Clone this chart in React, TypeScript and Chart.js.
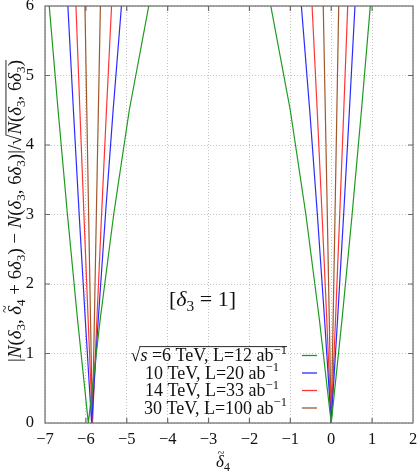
import React, { useEffect, useRef } from 'react';
import { Chart, registerables } from 'chart.js';
Chart.register(...registerables);

// y levels shared by every V-shaped branch (left arm top -> vertex -> right arm top)
const yLevels = [6, 4.5, 3, 1.5, 0, 1.5, 3, 4.5, 6];

// x positions for each series, left V (near -5.9) and right V (near 0)
const greenLeftV = [-6.896, -6.68, -6.451, -6.206, -5.94, -5.648, -5.32, -4.939, -4.462];
const greenRightV = [-1.478, -1.001, -0.62, -0.292, 0, 0.266, 0.511, 0.74, 0.956];
const blueLeftV = [-6.441, -6.305, -6.164, -6.016, -5.86, -5.696, -5.521, -5.334, -5.13];
const blueRightV = [-0.73, -0.526, -0.339, -0.164, 0, 0.156, 0.304, 0.445, 0.581];
const redLeftV = [-6.243, -6.147, -6.048, -5.946, -5.84, -5.73, -5.616, -5.497, -5.372];
const redRightV = [-0.468, -0.343, -0.224, -0.11, 0, 0.106, 0.208, 0.307, 0.403];
const brownLeftV = [-6.023, -5.978, -5.933, -5.887, -5.84, -5.792, -5.744, -5.695, -5.645];
const brownRightV = [-0.195, -0.145, -0.096, -0.048, 0, 0.047, 0.093, 0.138, 0.183];

const seriesEnergy = ['6', '10', '14', '30'];
const seriesLumi = ['12', '20', '33', '100'];
const seriesColors = ['#1f9a1f', '#2b2bff', '#ff3535', '#a0582c'];

const xTicks = [-7, -6, -5, -4, -3, -2, -1, 0, 1, 2];
const yTicks = [0, 1, 2, 3, 4, 5, 6];

const FONT = '"Liberation Serif", "DejaVu Serif", serif';

type Seg = { t: string; it?: boolean; sub?: boolean; sup?: boolean; tilde?: boolean; over?: boolean };

function segFont(s: Seg, size: number) {
  const sz = s.sub || s.sup ? size * 0.7 : size;
  return `${s.it ? 'italic ' : ''}${sz}px ${FONT}`;
}
function measureRich(ctx: CanvasRenderingContext2D, segs: Seg[], size: number) {
  let w = 0;
  for (const s of segs) {
    ctx.font = segFont(s, size);
    w += ctx.measureText(s.t).width;
  }
  return w;
}
function drawRich(ctx: CanvasRenderingContext2D, segs: Seg[], x: number, y: number, size: number) {
  let cx = x;
  let overStart: number | null = null;
  ctx.textAlign = 'left';
  ctx.textBaseline = 'alphabetic';
  for (const s of segs) {
    ctx.font = segFont(s, size);
    const w = ctx.measureText(s.t).width;
    const dy = s.sub ? size * 0.22 : s.sup ? -size * 0.4 : 0;
    if (s.over && overStart === null) overStart = cx;
    ctx.fillText(s.t, cx, y + dy);
    if (s.tilde) {
      ctx.font = `${size * 0.75}px ${FONT}`;
      ctx.textAlign = 'center';
      ctx.fillText('~', cx + w * 0.62, y - size * 0.6);
      ctx.textAlign = 'left';
    }
    cx += w;
  }
  if (overStart !== null) {
    ctx.save();
    ctx.lineWidth = 0.9;
    ctx.strokeStyle = ctx.fillStyle as string;
    ctx.beginPath();
    ctx.moveTo(overStart - 1, y - size * 0.8);
    ctx.lineTo(cx, y - size * 0.8);
    ctx.stroke();
    ctx.restore();
  }
  return cx;
}

function buildData(left: number[], right: number[]) {
  const pts: { x: number; y: number | null }[] = [];
  left.forEach((x, i) => pts.push({ x, y: yLevels[i] }));
  pts.push({ x: -3, y: null });
  right.forEach((x, i) => pts.push({ x, y: yLevels[i] }));
  return pts;
}

const decorPlugin = {
  id: 'decor',
  afterDatasetsDraw(chart: any) {
    const ctx: CanvasRenderingContext2D = chart.ctx;
    const { left, right, top, bottom } = chart.chartArea;
    const xs = chart.scales.x;
    const ys = chart.scales.y;
    ctx.save();
    ctx.strokeStyle = '#6a6a6a';
    ctx.lineWidth = 1.2;
    ctx.strokeRect(left, top, right - left, bottom - top);
    ctx.beginPath();
    const tl = 5;
    xTicks.slice(1, -1).forEach((v) => {
      const px = xs.getPixelForValue(v);
      ctx.moveTo(px, bottom);
      ctx.lineTo(px, bottom - tl);
      ctx.moveTo(px, top);
      ctx.lineTo(px, top + tl);
    });
    yTicks.slice(1, -1).forEach((v) => {
      const py = ys.getPixelForValue(v);
      ctx.moveTo(left, py);
      ctx.lineTo(left + tl, py);
      ctx.moveTo(right, py);
      ctx.lineTo(right - tl, py);
    });
    ctx.stroke();
    ctx.restore();
  },
  afterDraw(chart: any) {
    const ctx: CanvasRenderingContext2D = chart.ctx;
    ctx.save();
    ctx.fillStyle = '#111';

    // legend
    const rowY = [361, 378.5, 396, 413.5];
    const legSize = 18;
    seriesEnergy.forEach((e, i) => {
      const segs: Seg[] = [];
      if (i === 0) {
        segs.push({ t: '√' }, { t: 's', it: true, over: true }, { t: ' =' });
      }
      segs.push({ t: `${e} TeV, L=${seriesLumi[i]} ab` }, { t: '−1', sup: true });
      const w = measureRich(ctx, segs, legSize);
      const endX = i === 0 || i === 3 ? 287 : 279;
      drawRich(ctx, segs, endX - w, rowY[i], legSize);
      ctx.save();
      ctx.strokeStyle = seriesColors[i];
      ctx.lineWidth = 1.3;
      ctx.beginPath();
      ctx.moveTo(302, rowY[i] - 5.5);
      ctx.lineTo(317, rowY[i] - 5.5);
      ctx.stroke();
      ctx.restore();
    });

    // annotation
    const annSize = 22;
    const ann: Seg[] = [{ t: '[' }, { t: 'δ', it: true }, { t: '3', sub: true }, { t: ' = 1]' }];
    const aw = measureRich(ctx, ann, annSize);
    drawRich(ctx, ann, 202.5 - aw / 2, 306, annSize);

    // x title
    const xt: Seg[] = [{ t: 'δ', it: true, tilde: true }, { t: '4', sub: true }];
    const xw = measureRich(ctx, xt, 17);
    drawRich(ctx, xt, 223 - xw / 2, 467, 17);

    // y title
    const yt: Seg[] = [
      { t: '|' }, { t: 'N', it: true }, { t: '(' }, { t: 'δ', it: true }, { t: '3', sub: true },
      { t: ', ' }, { t: 'δ', it: true, tilde: true }, { t: '4', sub: true }, { t: ' + 6' },
      { t: 'δ', it: true }, { t: '3', sub: true }, { t: ') − ' }, { t: 'N', it: true }, { t: '(' },
      { t: 'δ', it: true }, { t: '3', sub: true }, { t: ', 6' }, { t: 'δ', it: true }, { t: '3', sub: true },
      { t: ')|/√' }, { t: 'N', it: true, over: true }, { t: '(', over: true }, { t: 'δ', it: true, over: true },
      { t: '3', sub: true, over: true }, { t: ', 6', over: true }, { t: 'δ', it: true, over: true },
      { t: '3', sub: true, over: true }, { t: ')', over: true },
    ];
    const baseSize = 15;
    const targetLen = 302;
    const ySize = (baseSize * targetLen) / measureRich(ctx, yt, baseSize);
    const yw = measureRich(ctx, yt, ySize);
    ctx.translate(21, 211);
    ctx.rotate(-Math.PI / 2);
    drawRich(ctx, yt, -yw / 2, 0, ySize);
    ctx.restore();
  },
};

export default function App() {
  const ref = useRef<HTMLCanvasElement | null>(null);
  useEffect(() => {
    if (!ref.current) return;
    const sets = [
      [greenLeftV, greenRightV],
      [blueLeftV, blueRightV],
      [redLeftV, redRightV],
      [brownLeftV, brownRightV],
    ];
    const chart = new Chart(ref.current, {
      type: 'line',
      data: {
        datasets: sets.map((s, i) => ({
          label: `${seriesEnergy[i]} TeV`,
          data: buildData(s[0], s[1]),
          borderColor: seriesColors[i],
          borderWidth: 1.2,
          pointRadius: 0,
          tension: 0,
          spanGaps: false,
          fill: false,
        })),
      },
      options: {
        animation: false,
        responsive: false,
        devicePixelRatio: 1,
        layout: { padding: { top: 6, right: 4, left: 0, bottom: 0 } },
        plugins: { legend: { display: false }, tooltip: { enabled: false }, title: { display: false } },
        scales: {
          x: {
            type: 'linear',
            min: -7,
            max: 2,
            afterFit: (s: any) => {
              s.height = 52;
              s.paddingLeft = 0;
              s.paddingRight = 0;
            },
            afterBuildTicks: (s: any) => { s.ticks = xTicks.map((v) => ({ value: v })); },
            ticks: {
              padding: 7,
              color: '#111',
              font: { family: FONT, size: 16.5 },
              callback: (v: any) => String(v).replace('-', '−'),
              maxRotation: 0,
            },
            grid: { color: '#c4c4c4', drawTicks: false, lineWidth: 1 },
            border: { display: false, dash: [1, 2] },
          },
          y: {
            type: 'linear',
            min: 0,
            max: 6,
            afterFit: (s: any) => {
              s.width = 45;
              s.paddingTop = 0;
              s.paddingBottom = 0;
            },
            afterBuildTicks: (s: any) => { s.ticks = yTicks.map((v) => ({ value: v })); },
            ticks: {
              padding: 11,
              color: '#111',
              font: { family: FONT, size: 16.5 },
            },
            grid: { color: '#c4c4c4', drawTicks: false, lineWidth: 1 },
            border: { display: false, dash: [1, 2] },
          },
        },
      },
      plugins: [decorPlugin],
    });
    return () => chart.destroy();
  }, []);
  return (
    <div style={{ position: 'absolute', left: 0, top: 0, width: 417, height: 475, background: '#fff' }}>
      <canvas ref={ref} width={417} height={475} style={{ display: 'block' }} />
    </div>
  );
}
